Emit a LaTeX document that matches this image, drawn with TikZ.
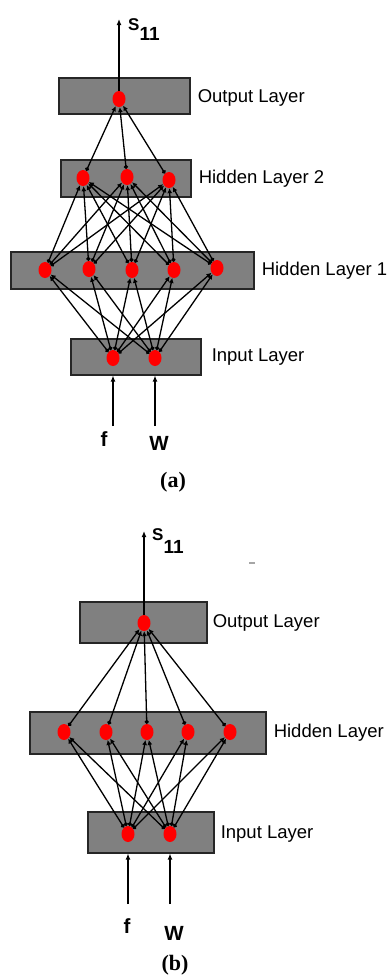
\documentclass[tikz,border=0pt]{standalone}
\usepackage{fontspec}
\setmainfont{Liberation Sans}
\newfontfamily\capfont{Liberation Serif}
\usetikzlibrary{shapes.geometric,arrows.meta,positioning}
\newcommand{\selabel}[1]{{\fontsize{17}{17}\selectfont\bfseries S}\raisebox{-#1}{\fontsize{19}{19}\selectfont\bfseries 11}}

\begin{document}
\begin{tikzpicture}[x=1pt,y=-1pt]
  % two feed-forward networks, (a) with two hidden layers, (b) with one
  \tikzset{
    layer/.style={draw=black!85,fill=black!50,line width=1.1pt,inner sep=0pt},
    neuron/.style={ellipse,fill=red,inner sep=0pt,minimum width=13pt,minimum height=16pt},
    link/.style={line width=1.3pt,{Circle[length=4pt]}-{Latex[length=5pt,width=5pt]}},
    feed/.style={line width=1.7pt,-{Latex[length=6pt,width=5pt]}},
    lname/.style={inner sep=0pt,font=\fontsize{18.5}{20}\selectfont},
    inname/.style={inner sep=0pt,anchor=base,font=\fontsize{20.5}{21}\selectfont\bfseries},
    capname/.style={inner sep=0pt,font=\capfont\bfseries\fontsize{22}{22}\selectfont}
  }
  \useasboundingbox (0,0) rectangle (388,978);

  % ---------- (a) ----------
  \node[layer,minimum width=131pt,minimum height=36pt] (outboxa) at (124.5,96) {};
  \node[layer,minimum width=130pt,minimum height=37pt] (h2boxa) at (126,178.5) {};
  \node[layer,minimum width=243pt,minimum height=37pt] (h1boxa) at (132.5,270.5) {};
  \node[layer,minimum width=130pt,minimum height=36pt] (inboxa) at (136,357) {};
  \node[lname,right=7pt of outboxa,yshift=-2pt] {Output Layer};
  \node[lname,right=7pt of h2boxa] {Hidden Layer 2};
  \node[lname,right=7pt of h1boxa] {Hidden Layer 1};
  \node[lname,right=10pt of inboxa] {Input Layer};

  \node[neuron] (oa) at (119,99) {};
  \foreach \x/\y [count=\i] in {83/178,127/177,169/180}
    \node[neuron] (h2a\i) at (\x,\y) {};
  \foreach \x/\y [count=\i] in {45/270,89/269,132/270,174/270,217/268}
    \node[neuron] (h1a\i) at (\x,\y) {};
  \foreach \x [count=\i] in {113,155}
    \node[neuron] (ina\i) at (\x,358) {};

  \foreach \i in {1,2}
    \foreach \j in {1,...,5}
      \draw[link] (ina\i) -- (h1a\j);
  \foreach \i in {1,...,5}
    \foreach \j in {1,2,3}
      \draw[link] (h1a\i) -- (h2a\j);
  \foreach \i in {1,2,3}
    \draw[link] (h2a\i) -- (oa);

  \coordinate (sa) at (119,19);
  \draw[feed] (oa.north) -- (sa);
  \node[inner sep=0pt,anchor=base west] (sla) at (128,30) {\selabel{10pt}};
  \coordinate (fta) at (113,426);
  \coordinate (wta) at (155,426);
  \draw[feed] (fta) -- (fta |- inboxa.south);
  \draw[feed] (wta) -- (wta |- inboxa.south);
  \node[inname] (fa) at (104,446) {f};
  \node[inname] (wa) at (159,450) {W};
  \node[capname] (capa) at (173,482) {(a)};

  % ---------- (b) ----------
  \node[layer,minimum width=127pt,minimum height=41pt] (outboxb) at (143.5,622.5) {};
  \node[layer,minimum width=236pt,minimum height=42pt] (hboxb) at (148,733) {};
  \node[layer,minimum width=126pt,minimum height=41pt] (inboxb) at (151,832.5) {};
  \node[lname,right=5pt of outboxb] {Output Layer};
  \node[lname,right=7pt of hboxb] {Hidden Layer};
  \node[lname,right=6pt of inboxb,yshift=-2pt] {Input Layer};

  \node[neuron] (ob) at (144,623) {};
  \foreach \x [count=\i] in {64,106,147,188,230}
    \node[neuron] (hb\i) at (\x,732) {};
  \foreach \x [count=\i] in {128,170}
    \node[neuron] (inb\i) at (\x,834) {};

  \foreach \i in {1,2}
    \foreach \j in {1,...,5}
      \draw[link] (inb\i) -- (hb\j);
  \foreach \i in {1,...,5}
    \draw[link] (hb\i) -- (ob);

  \coordinate (sb) at (144,531);
  \draw[feed] (ob.north) -- (sb);
  \node[inner sep=0pt,anchor=base west] (slb) at (152,540) {\selabel{13pt}};
  \draw[gray!70,line width=1.2pt] (249,563) -- (255,563);
  \coordinate (ftb) at (128,904);
  \coordinate (wtb) at (170,904);
  \draw[feed] (ftb) -- (ftb |- inboxb.south);
  \draw[feed] (wtb) -- (wtb |- inboxb.south);
  \node[inname] (fb) at (127,933) {f};
  \node[inname] (wb) at (174,940) {W};
  \node[capname] (capb) at (175,965) {(b)};
\end{tikzpicture}
\end{document}
